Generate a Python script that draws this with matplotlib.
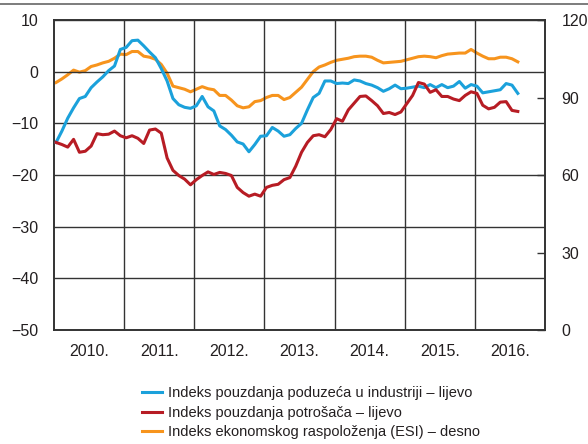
import numpy as np
import matplotlib.pyplot as plt
from matplotlib.lines import Line2D

plt.rcParams['font.family'] = ['Liberation Sans', 'DejaVu Sans']

# mjesečni podaci, siječanj 2010. - kolovoz 2016.
industrija = [-13.7, -11.5, -9.0, -7.0, -5.2, -4.8, -3.1, -2.0, -1.0, 0.2,
              1.1, 4.3, 4.7, 6.0, 6.1, 5.0, 3.8, 2.7, 0.6, -1.8,
              -5.2, -6.4, -6.9, -7.1, -6.6, -4.8, -6.8, -7.6, -10.5, -11.2,
              -12.3, -13.6, -14.0, -15.5, -14.1, -12.5, -12.4, -10.8, -11.5, -12.5,
              -12.2, -11.0, -10.0, -7.4, -5.0, -4.2, -1.8, -1.8, -2.3, -2.2,
              -2.3, -1.6, -1.8, -2.3, -2.6, -3.1, -3.8, -3.3, -2.6, -3.3,
              -3.2, -3.0, -2.8, -3.1, -2.5, -3.1, -2.5, -3.1, -2.8, -1.9,
              -3.2, -2.5, -2.8, -4.1, -3.9, -3.7, -3.5, -2.3, -2.6, -4.2]
potrosaci = [-13.7, -14.1, -14.6, -13.1, -15.6, -15.4, -14.4, -12.0, -12.2, -12.1,
             -11.5, -12.4, -12.8, -12.4, -12.9, -13.9, -11.3, -11.1, -11.9, -16.7,
             -19.1, -20.1, -20.8, -21.9, -20.9, -20.1, -19.4, -19.9, -19.5, -19.7,
             -20.1, -22.4, -23.4, -24.1, -23.7, -24.1, -22.4, -22.0, -21.8, -20.9,
             -20.5, -18.3, -15.6, -13.7, -12.4, -12.2, -12.6, -11.2, -9.1, -9.6,
             -7.4, -6.1, -4.8, -4.7, -5.6, -6.6, -8.1, -7.9, -8.3, -7.8,
             -6.2, -4.6, -2.1, -2.4, -4.0, -3.5, -4.8, -4.8, -5.3, -5.6,
             -4.6, -3.9, -4.2, -6.5, -7.2, -6.9, -5.9, -5.8, -7.5, -7.7]
esi = [95.8, 97.2, 98.8, 100.6, 99.8, 100.4, 102.0, 102.6, 103.4, 104.0,
       105.2, 106.8, 106.6, 107.8, 107.8, 106.0, 105.6, 104.8, 102.8, 99.4,
       94.4, 93.8, 93.2, 92.2, 93.2, 94.2, 93.4, 93.0, 90.8, 90.8,
       89.0, 86.8, 86.0, 86.4, 88.4, 88.8, 90.0, 90.8, 90.8, 89.2,
       90.0, 92.0, 94.0, 97.0, 100.0, 101.8, 102.6, 103.6, 104.4, 104.8,
       105.2, 105.8, 106.0, 106.0, 105.6, 104.4, 103.4, 103.6, 103.8, 104.0,
       104.6, 105.2, 105.8, 106.0, 105.8, 105.4, 106.2, 106.8, 107.0, 107.2,
       107.2, 108.6, 107.2, 106.0, 105.0, 105.0, 105.6, 105.6, 105.0, 103.8]

godine = ['2010.', '2011.', '2012.', '2013.', '2014.', '2015.', '2016.']
lijevo_ticks = [10, 0, -10, -20, -30, -40, -50]
desno_ticks = [0, 30, 60, 90, 120]

boja_plava = '#1ba1db'
boja_crvena = '#b71c24'
boja_narancasta = '#f7941d'
tekst = '#231f20'

mjeseci = np.arange(len(industrija))
x = 2010 + (mjeseci + 0.35) / 12

fig = plt.figure(figsize=(5.88, 4.44), dpi=100)
ax = fig.add_axes([54 / 588, 1 - 330 / 444, 491 / 588, 310 / 444])
ax2 = ax.twinx()

ax.plot(x, industrija, color=boja_plava, lw=2.2, label='Indeks pouzdanja poduzeća u industriji – lijevo', zorder=3)
ax.plot(x, potrosaci, color=boja_crvena, lw=2.2, label='Indeks pouzdanja potrošača – lijevo', zorder=3)
ax2.plot(x, esi, color=boja_narancasta, lw=2.2, label='Indeks ekonomskog raspoloženja (ESI) – desno')

ax.set_xlim(2010, 2017)
ax.set_ylim(-50, 10)
ax2.set_ylim(0, 120)

# ESI ispod ostalih linija
ax.set_zorder(ax2.get_zorder() + 1)
ax.patch.set_visible(False)

ax.set_yticks(lijevo_ticks)
ax.set_yticklabels(['10', '0', '−10', '−20', '−30', '−40', '−50'])
ax.set_xticks(np.arange(2010.5, 2017, 1))
ax.set_xticklabels(godine)
ax.set_xticks(np.arange(2011, 2017, 1), minor=True)
ax.tick_params(axis='both', which='both', length=0, labelsize=11.5, colors=tekst)
ax.tick_params(axis='y', pad=11)
ax.tick_params(axis='x', pad=10)
ax.grid(axis='y', which='major', color='#333333', lw=1)
ax.grid(axis='x', which='minor', color='#333333', lw=1)

ax2.set_yticks(desno_ticks)
ax2.tick_params(axis='y', direction='in', length=6, width=1, color='#333333',
                labelsize=11.5, pad=12)
ax2.tick_params(axis='y', labelcolor=tekst)

for a in (ax, ax2):
    for s in a.spines.values():
        s.set_color('#333333')
        s.set_linewidth(1.2)

fig.add_artist(Line2D([0, 1], [1 - 4 / 444, 1 - 4 / 444], color='#666666', lw=1.2))

h1, l1 = ax.get_legend_handles_labels()
h2, l2 = ax2.get_legend_handles_labels()
fig.legend(h1 + h2, l1 + l2, loc='upper left', bbox_to_anchor=(135 / 588, 1 - 379 / 444),
           frameon=False, fontsize=10.5, handlelength=1.35, handletextpad=0.4,
           labelspacing=0.38, borderpad=0, labelcolor=tekst)

fig.savefig('out.png', dpi=100)
